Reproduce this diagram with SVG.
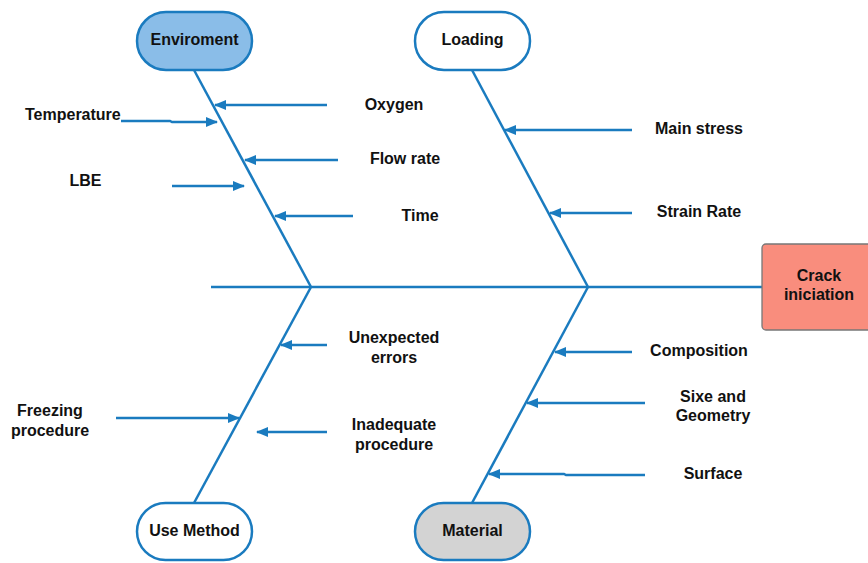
<svg xmlns="http://www.w3.org/2000/svg" width="868" height="563" viewBox="0 0 868 563">
<style>
text{font-family:"Liberation Sans",Arial,sans-serif;font-weight:bold;font-size:16px;fill:#111}
.pill{stroke:#1a7bbf;stroke-width:2.5}
.ln{stroke:#1a7bbf;stroke-width:2.5;fill:none}
.ar{stroke:#1a7bbf;stroke-width:2.5;fill:none;marker-end:url(#ah)}
</style>
<defs>
<marker id="ah" viewBox="0 0 12 10" refX="11" refY="5" markerWidth="12" markerHeight="10" markerUnits="userSpaceOnUse" orient="auto">
<path d="M0,0 L12,5 L0,10 Z" fill="#1a7bbf"/>
</marker>
</defs>
<rect width="868" height="563" fill="#fff"/>
<g id="connectors">
<line class="ln" x1="211" y1="287" x2="762" y2="287"/>
<line class="ln" x1="194" y1="70" x2="311" y2="287"/>
<line class="ln" x1="472" y1="70" x2="588" y2="287"/>
<line class="ln" x1="194" y1="503" x2="311" y2="287"/>
<line class="ln" x1="472" y1="503" x2="588" y2="287"/>
<line class="ar" x1="327" y1="105" x2="215" y2="105"/>
<polyline class="ar" points="121,121 170,121 172,122 217,122"/>
<line class="ar" x1="338" y1="160" x2="245" y2="160"/>
<line class="ar" x1="172" y1="186" x2="244" y2="186"/>
<line class="ar" x1="353" y1="216" x2="275" y2="216"/>
<line class="ar" x1="632" y1="130" x2="505" y2="130"/>
<line class="ar" x1="632" y1="213" x2="550" y2="213"/>
<line class="ar" x1="327" y1="345" x2="281" y2="345"/>
<line class="ar" x1="116" y1="418" x2="239" y2="418"/>
<line class="ar" x1="327" y1="432" x2="257" y2="432"/>
<line class="ar" x1="632" y1="352" x2="555" y2="352"/>
<line class="ar" x1="645" y1="403" x2="527" y2="403"/>
<polyline class="ar" points="645,475 566,475 564,474 489,474"/>
</g>
<g id="enviroment"><rect class="pill" x="137" y="12" width="115" height="58" rx="29" fill="#8abde8"/><text x="194.5" y="44.5" text-anchor="middle">Enviroment</text></g>
<g id="loading"><rect class="pill" x="415" y="12" width="115" height="58" rx="29" fill="#fff"/><text x="472.5" y="44.5" text-anchor="middle">Loading</text></g>
<g id="use-method"><rect class="pill" x="137" y="503" width="115" height="57" rx="28.5" fill="#fff"/><text x="194.5" y="536" text-anchor="middle">Use Method</text></g>
<g id="material"><rect class="pill" x="415" y="503" width="115" height="57" rx="28.5" fill="#d3d3d3"/><text x="472.5" y="536" text-anchor="middle">Material</text></g>
<g id="crack"><rect x="762" y="244" width="116" height="86" rx="4" fill="#f98d7d" stroke="#777" stroke-width="1.3"/><text x="819" y="281" text-anchor="middle">Crack</text><text x="819" y="300" text-anchor="middle">iniciation</text></g>
<g id="labels">
<text x="394" y="110" text-anchor="middle">Oxygen</text>
<text x="25" y="120">Temperature</text>
<text x="405" y="164" text-anchor="middle">Flow rate</text>
<text x="85.5" y="186" text-anchor="middle">LBE</text>
<text x="420" y="221" text-anchor="middle">Time</text>
<text x="699" y="134" text-anchor="middle">Main  stress</text>
<text x="699" y="217" text-anchor="middle">Strain Rate</text>
<text x="394" y="343" text-anchor="middle">Unexpected</text>
<text x="394" y="363" text-anchor="middle">errors</text>
<text x="50" y="416" text-anchor="middle">Freezing</text>
<text x="50" y="436" text-anchor="middle">procedure</text>
<text x="394" y="430" text-anchor="middle">Inadequate</text>
<text x="394" y="450" text-anchor="middle">procedure</text>
<text x="699" y="356" text-anchor="middle">Composition</text>
<text x="713" y="402" text-anchor="middle">Sixe and</text>
<text x="713" y="421" text-anchor="middle">Geometry</text>
<text x="713" y="479" text-anchor="middle">Surface</text>
</g>
</svg>
